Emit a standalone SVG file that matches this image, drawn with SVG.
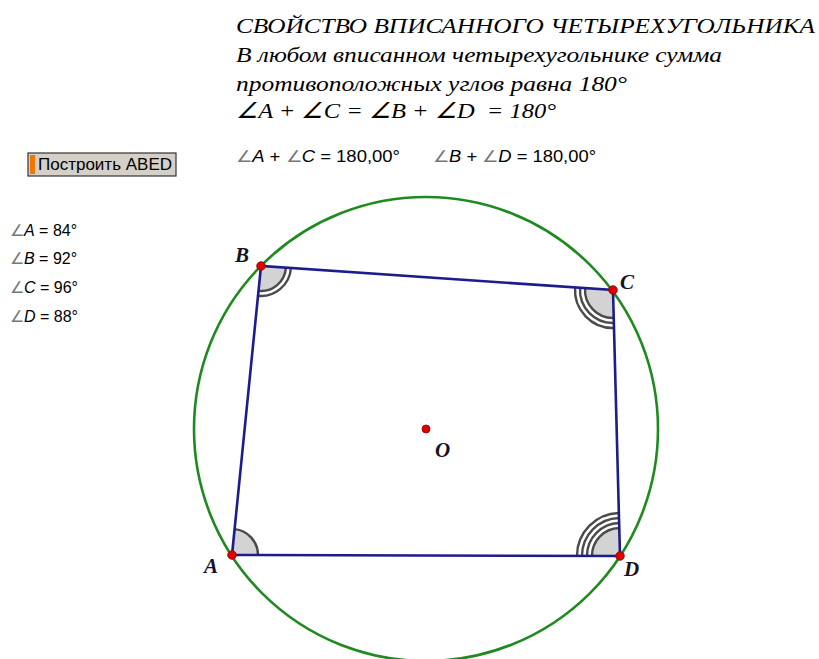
<svg xmlns="http://www.w3.org/2000/svg" width="819" height="659" viewBox="0 0 819 659">
<style>
.ser{font-family:"Liberation Serif","Times New Roman",serif;font-style:italic;fill:#000;white-space:pre}
.san{font-family:"Liberation Sans",Arial,sans-serif;font-size:16px;fill:#000}
.ang{fill:#777;font-style:normal}
.it{font-style:italic}
.lbl{font-family:"Liberation Serif","Times New Roman",serif;font-style:italic;font-weight:bold;font-size:21px;fill:#141428}
.fill{fill:#d3d3d3;stroke:none}
.arc{fill:none;stroke:#4a4a4a;stroke-width:2.4}
.side{stroke:#1c1c8c;stroke-width:2.6;fill:none;stroke-linecap:round}
.pt{fill:#e00000;stroke:#8b0000;stroke-width:0.8}
</style>
<rect width="819" height="659" fill="#fff"/>
<g id="header">
<text class="ser" x="236" y="33" font-size="22" textLength="579" lengthAdjust="spacingAndGlyphs">СВОЙСТВО ВПИСАННОГО ЧЕТЫРЕХУГОЛЬНИКА</text>
<text class="ser" x="236" y="62" font-size="22" textLength="486" lengthAdjust="spacingAndGlyphs">В любом вписанном четырехугольнике сумма</text>
<text class="ser" x="236" y="91" font-size="22" textLength="391" lengthAdjust="spacingAndGlyphs">противоположных углов равна 180°</text>
<text class="ser" x="236" y="118" font-size="22" textLength="320" lengthAdjust="spacingAndGlyphs" xml:space="preserve">∠A + ∠C = ∠B + ∠D  = 180°</text>
</g>
<g id="button">
<rect x="28" y="153" width="148" height="23" fill="#d4d0c8" stroke="#333" stroke-width="1.2"/>
<rect x="30" y="155" width="5" height="19" fill="#f07800"/>
<text class="san" x="38" y="170" textLength="134" lengthAdjust="spacingAndGlyphs">Построить ABED</text>
</g>
<g id="sums">
<text class="san" x="236" y="162" textLength="164" lengthAdjust="spacingAndGlyphs"><tspan class="ang">∠</tspan><tspan class="it">A</tspan> + <tspan class="ang">∠</tspan><tspan class="it">C</tspan> = 180,00°</text>
<text class="san" x="433" y="162" textLength="163" lengthAdjust="spacingAndGlyphs"><tspan class="ang">∠</tspan><tspan class="it">B</tspan> + <tspan class="ang">∠</tspan><tspan class="it">D</tspan> = 180,00°</text>
</g>
<g id="angles">
<text class="san" x="10" y="236"><tspan class="ang">∠</tspan><tspan class="it">A</tspan> = 84°</text>
<text class="san" x="10" y="264"><tspan class="ang">∠</tspan><tspan class="it">B</tspan> = 92°</text>
<text class="san" x="10" y="293"><tspan class="ang">∠</tspan><tspan class="it">C</tspan> = 96°</text>
<text class="san" x="10" y="322"><tspan class="ang">∠</tspan><tspan class="it">D</tspan> = 88°</text>
</g>
<g id="circle">
<circle cx="426" cy="429" r="232" fill="none" stroke="#1f8a1f" stroke-width="2.6"/>
</g>
<g id="angle-marks">
<path class="fill" d="M232,555 L258,555.07 A26,26 0 0 0 234.6,529.13 Z"/>
<path class="arc" d="M258,555.07 A26,26 0 0 0 234.6,529.13"/>
<path class="fill" d="M261,266 L285.94,267.7 A25,25 0 0 1 258.5,290.9 Z"/>
<path class="arc" d="M285.94,267.7 A25,25 0 0 1 258.5,290.9"/>
<path class="arc" d="M290.93,268.04 A30,30 0 0 1 258,295.85"/>
<path class="fill" d="M613,290 L613.74,317.99 A28,28 0 0 1 585.06,288.1 Z"/>
<path class="arc" d="M613.74,317.99 A28,28 0 0 1 585.06,288.1"/>
<path class="arc" d="M613.87,322.99 A33,33 0 0 1 580.08,287.76"/>
<path class="arc" d="M614,327.99 A38,38 0 0 1 575.09,287.42"/>
<path class="fill" d="M620,556 L592,555.93 A28,28 0 0 1 619.26,528.01 Z"/>
<path class="arc" d="M592,555.93 A28,28 0 0 1 619.26,528.01"/>
<path class="arc" d="M587,555.91 A33,33 0 0 1 619.13,523.01"/>
<path class="arc" d="M582,555.9 A38,38 0 0 1 619,518.01"/>
<path class="arc" d="M577,555.89 A43,43 0 0 1 618.87,513.01"/>
</g>
<g id="connectors">
<path class="side" d="M232,555 L261,266 L613,290 L620,556 Z"/>
</g>
<g id="A"><circle class="pt" cx="232" cy="555" r="4.3"/><text class="lbl" x="204" y="573">A</text></g>
<g id="B"><circle class="pt" cx="261" cy="266" r="4.3"/><text class="lbl" x="235" y="262">B</text></g>
<g id="C"><circle class="pt" cx="613" cy="290" r="4.3"/><text class="lbl" x="620" y="289">C</text></g>
<g id="D"><circle class="pt" cx="620" cy="556" r="4.3"/><text class="lbl" x="624" y="576">D</text></g>
<g id="O"><circle class="pt" cx="426" cy="429" r="4"/><text class="lbl" x="435" y="457">O</text></g>
</svg>
